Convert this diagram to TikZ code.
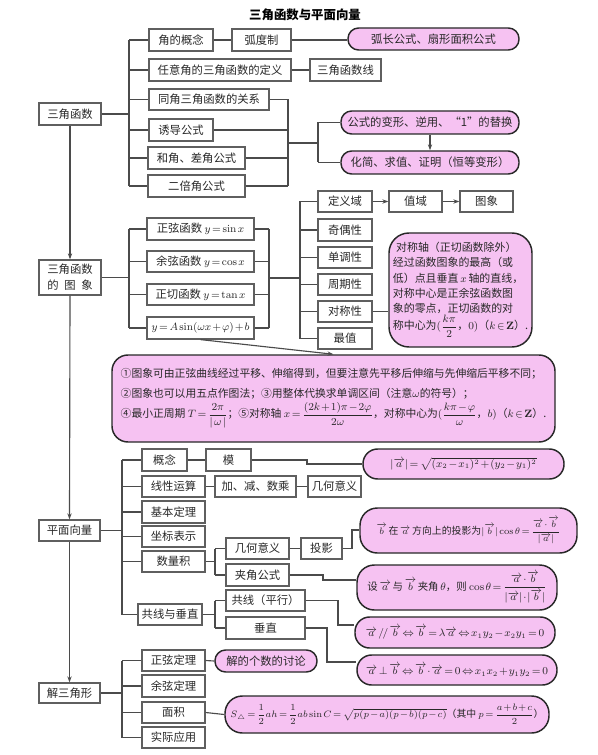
\documentclass[tikz,border=0pt]{standalone}
\usepackage{amsmath}
\usepackage[no-math]{fontspec}
\setmainfont{Noto Sans CJK SC}
\usetikzlibrary{arrows.meta}
\definecolor{pinkf}{RGB}{246,194,242}
\definecolor{pinkd}{RGB}{40,40,40}
\definecolor{boxd}{RGB}{95,95,95}
\definecolor{lined}{RGB}{75,75,75}
\definecolor{txt}{RGB}{40,40,40}
\newcommand\mybox[7][]{\node[#1, minimum width={(#5-#3)*0.75pt}, minimum height={(#6-#4)*0.75pt}] (#2) at ({(#3+#5)/2},{(#4+#6)/2}) {#7};}
\newcommand\va{\overrightarrow{a}}
\newcommand\vb{\overrightarrow{b}}
\thickmuskip=2.5mu plus 1mu
\medmuskip=1.5mu plus 1mu
\thinmuskip=2mu
\begin{document}
\begin{tikzpicture}[x=0.75pt,y=-0.75pt,
  plain/.style={draw=boxd, fill=white, line width=0.9pt, inner sep=0pt, font=\fontsize{8.5}{10}\selectfont, text=txt},
  pinkbox/.style={draw=pinkd, fill=pinkf, line width=1.1pt, rounded corners=7.5pt, inner sep=0pt, font=\fontsize{8.5}{10}\selectfont, text=txt},
  bigpink/.style={pinkbox, rounded corners=12pt},
  fml/.style={font=\fontsize{7.8}{9}\selectfont},
  fmls/.style={font=\fontsize{7.4}{9}\selectfont},
  link/.style={draw=lined, line width=0.85pt},
  arr/.style={link, -{Stealth[length=4.5pt,width=3.2pt]}}]
\useasboundingbox (0,0) rectangle (597,755);
\node[font=\fontsize{9.3}{11}\selectfont\bfseries] (title) at (305,15) {三角函数与平面向量};
% ---------- section 1
\mybox[plain]{sjhs}{39}{103}{101}{125}{三角函数}
\mybox[plain]{a1}{149}{29}{213}{51}{角的概念}
\mybox[plain]{a1b}{232}{29}{291}{51}{弧度制}
\mybox[pinkbox,rounded corners=8pt]{a1c}{348}{28}{519}{50}{弧长公式、扇形面积公式}
\mybox[plain]{a2}{149}{59}{291}{81}{任意角的三角函数的定义}
\mybox[plain]{a2b}{310}{59}{381}{81}{三角函数线}
\mybox[plain]{a3}{149}{89}{269}{110}{同角三角函数的关系}
\mybox[plain]{a4}{149}{119}{213}{141}{诱导公式}
\mybox[plain]{a5}{148}{147}{245}{169}{和角、差角公式}
\mybox[plain]{a6}{148}{175}{245}{197}{二倍角公式}
\mybox[pinkbox,rounded corners=8pt]{p1}{341}{111}{519}{134}{公式的变形、逆用、“1”的替换}
\mybox[pinkbox,rounded corners=8pt]{p2}{341}{151}{519}{174}{化简、求值、证明（恒等变形）}
\coordinate (B1) at (129,0);
\coordinate (B2) at (288,0);
\coordinate (B2m) at (288,143);
\coordinate (B3) at (318,143);
\draw[link] (sjhs.east) -- (sjhs.east -| B1);
\draw[link] (a1.west -| B1) -- (a6.west -| B1);
\foreach \n in {a1,a2,a3,a4,a5,a6} \draw[link] (\n.west -| B1) -- (\n.west);
\draw[link] (a1.east) -- (a1b.west);
\draw[link] (a1b.east) -- (a1b.east -| a1c.west);
\draw[link] (a2.east) -- (a2b.west);
\draw[link] (a3.east -| B2) -- (a6.east -| B2);
\foreach \n in {a3,a4,a5,a6} \draw[link] (\n.east) -- (\n.east -| B2);
\draw[link] (B2m) -- (B3);
\draw[link] (p1.west -| B3) -- (p2.west -| B3);
\draw[link] (p1.west -| B3) -- (p1.west);
\draw[link] (p2.west -| B3) -- (p2.west);
\draw[arr] (p1.south) -- (p2.north);
% ---------- section 2
\mybox[plain,align=center,font=\fontsize{8.5}{12}\selectfont]{tx}{39}{260}{101}{295}{三角函数\\的\hspace{0.5em}图\hspace{0.5em}象}
\mybox[plain]{g1}{147}{218}{254}{240}{正弦函数 $y=\sin x$}
\mybox[plain]{g2}{147}{251}{254}{272}{余弦函数 $y=\cos x$}
\mybox[plain]{g3}{147}{284}{254}{305}{正切函数 $y=\tan x$}
\mybox[plain]{g4}{147}{317}{254}{339}{$y=A\sin(\omega x+\varphi)+b$}
\mybox[plain]{h1}{318}{191}{372}{212}{定义域}
\mybox[plain]{h1b}{389}{191}{442}{212}{值域}
\mybox[plain]{h1c}{460}{191}{513}{212}{图象}
\mybox[plain]{h2}{318}{219}{372}{241}{奇偶性}
\mybox[plain]{h3}{318}{247}{372}{268}{单调性}
\mybox[plain]{h4}{318}{274}{372}{295}{周期性}
\mybox[plain]{h5}{318}{301}{372}{322}{对称性}
\mybox[plain]{h6}{318}{328}{372}{349}{最值}
\mybox[bigpink,rounded corners=15pt,align=left,font=\fontsize{8.2}{11.4}\selectfont]{q1}{389}{233}{532}{347}{\hspace{0.3em}对称轴（正切函数除外）\\经过函数图象的最高（或\\低）点且垂直\,$x$\,轴的直线，\\对称中心是正余弦函数图\\象的零点，正切函数的对\\称中心为$(\dfrac{k\pi}{2}$，$0)$（$k\in\mathbf{Z}$）.}
\mybox[bigpink,align=left,font=\fontsize{8.1}{15}\selectfont]{q2}{112}{355}{555}{442}{①图象可由正弦曲线经过平移、伸缩得到，但要注意先平移后伸缩与先伸缩后平移不同；\\②图象也可以用五点作图法；③用整体代换求单调区间（注意$\omega$的符号）；\\④最小正周期 $T=\dfrac{2\pi}{|\,\omega\,|}$；⑤对称轴 $x=\dfrac{(2k+1)\pi-2\varphi}{2\omega}$，对称中心为$(\dfrac{k\pi-\varphi}{\omega}$，$b)$（$k\in\mathbf{Z}$）.}
\coordinate (C1) at (129,0);
\coordinate (C2) at (269,0);
\coordinate (C2m) at (269,278);
\coordinate (C3m) at (300,278);
\coordinate (C3) at (300,0);
\draw[arr] (sjhs.south) -- (tx.north);
\draw[link] (tx.east) -- (tx.east -| C1);
\draw[link] (g1.west -| C1) -- (g4.west -| C1);
\draw[link] (g1.east -| C2) -- (g4.east -| C2);
\foreach \n in {g1,g2,g3,g4} {\draw[link] (\n.west -| C1) -- (\n.west); \draw[link] (\n.east) -- (\n.east -| C2);}
\draw[link] (C2m) -- (C3m);
\draw[link] (h1.west -| C3) -- (h6.west -| C3);
\foreach \n in {h1,h2,h3,h4,h5,h6} \draw[link] (\n.west -| C3) -- (\n.west);
\draw[arr] (h1.east) -- (h1b.west);
\draw[arr] (h1b.east) -- (h1c.west);
\draw[link] (h5.east) -- (h5.east -| q1.west);
\draw[arr] (g4.south) -- (q2.north);
% ---------- section 3
\mybox[plain]{pm}{39}{520}{100}{541}{平面向量}
\mybox[plain]{v1}{142}{449}{187}{471}{概念}
\mybox[plain]{v1b}{206}{449}{251}{471}{模}
\mybox[bigpink,fml,rounded corners=11pt]{v1c}{363}{449}{564}{479}{$|\va|=\sqrt{(x_2-x_1)^2+(y_2-y_1)^2}$}
\mybox[plain]{v2}{142}{476}{205}{497}{线性运算}
\mybox[plain]{v2b}{215}{476}{296}{497}{加、减、数乘}
\mybox[plain]{v2c}{308}{476}{361}{497}{几何意义}
\mybox[plain]{v3}{142}{501}{205}{523}{基本定理}
\mybox[plain]{v4}{142}{526}{205}{547}{坐标表示}
\mybox[plain]{v5}{142}{551}{205}{572}{数量积}
\mybox[plain]{v5a}{226}{538}{289}{559}{几何意义}
\mybox[plain]{v5b}{226}{564}{289}{586}{夹角公式}
\mybox[plain]{v5c}{301}{538}{342}{559}{投影}
\mybox[bigpink,fmls,rounded corners=13pt]{proj}{360}{508}{577}{553}{$\vb$\,在\,$\va$\,方向上的投影为$|\vb|\cos\theta=\dfrac{\va\cdot\vb}{|\va|}$}
\mybox[bigpink,fml,rounded corners=13pt]{ang}{357}{565}{557}{610}{设\,$\va$\,与\,$\vb$\,夹角\,$\theta$，则 $\cos\theta=\dfrac{\va\cdot\vb}{|\va|\cdot|\vb|}$}
\mybox[plain]{v6}{138}{604}{202}{625}{共线与垂直}
\mybox[plain]{v6a}{226}{590}{305}{611}{共线（平行）}
\mybox[plain]{v6b}{226}{617}{305}{639}{垂直}
\mybox[bigpink,fml,rounded corners=11pt]{par}{355}{617}{555}{648}{$\va\,/\!/\,\vb\Leftrightarrow\vb=\lambda\va\Leftrightarrow x_1y_2-x_2y_1=0$}
\mybox[bigpink,fml,rounded corners=11pt]{perp}{357}{655}{557}{685}{$\va\perp\vb\Leftrightarrow\vb\cdot\va=0\Leftrightarrow x_1x_2+y_1y_2=0$}
\coordinate (D1) at (122,0);
\coordinate (D2) at (215,0);
\coordinate (k0) at (307,464);
\coordinate (k1) at (323,580);
\coordinate (k2) at (352,530);
\coordinate (k3) at (338,625);
\coordinate (k4) at (327,662);
\draw[arr] (tx.south) -- (pm.north);
\draw[link] (pm.east) -- (pm.east -| D1);
\draw[link] (v1.west -| D1) -- (v6.west -| D1);
\foreach \n in {v1,v2,v3,v4,v5,v6} \draw[link] (\n.west -| D1) -- (\n.west);
\draw[link] (v1.east) -- (v1b.west);
\draw[link] (v1b.east) -| (k0) -- (k0 -| v1c.west);
\draw[link] (v2.east) -- (v2b.west);
\draw[link] (v2b.east) -- (v2c.west);
\draw[link] (v5.east) -- (v5.east -| D2);
\draw[link] (v5a.west -| D2) -- (v5b.west -| D2);
\draw[link] (v5a.west -| D2) -- (v5a.west);
\draw[link] (v5b.west -| D2) -- (v5b.west);
\draw[link] (v5a.east) -- (v5c.west);
\draw[link] (v5c.east) -| (k2) -- (k2 -| proj.west);
\draw[link] (v5b.east) -| (k1) -- (k1 -| ang.west);
\draw[link] (v6.east) -- (v6.east -| D2);
\draw[link] (v6a.west -| D2) -- (v6b.west -| D2);
\draw[link] (v6a.west -| D2) -- (v6a.west);
\draw[link] (v6b.west -| D2) -- (v6b.west);
\draw[link] (v6a.east) -| (k3) -- (k3 -| par.west);
\draw[link] (v6b.east) -| (k4) -- (k4 -| perp.west);
% ---------- section 4
\mybox[plain]{jsj}{39}{683}{100}{703}{解三角形}
\mybox[plain]{t1}{142}{650}{205}{671}{正弦定理}
\mybox[plain]{t2}{142}{675}{205}{697}{余弦定理}
\mybox[plain]{t3}{142}{702}{205}{723}{面积}
\mybox[plain]{t4}{142}{727}{205}{748}{实际应用}
\mybox[pinkbox,rounded corners=8pt]{t1b}{215}{650}{317}{672}{解的个数的讨论}
\mybox[bigpink,fmls,rounded corners=13pt]{t3b}{225}{696}{549}{733}{$S_{\triangle}=\dfrac12ah=\dfrac12ab\sin C=\sqrt{p(p-a)(p-b)(p-c)}$（其中 $p=\dfrac{a+b+c}{2}$）}
\coordinate (E1) at (122,0);
\draw[arr] (pm.south) -- (jsj.north);
\draw[link] (jsj.east) -- (jsj.east -| E1);
\draw[link] (t1.west -| E1) -- (t4.west -| E1);
\foreach \n in {t1,t2,t3,t4} \draw[link] (\n.west -| E1) -- (\n.west);
\draw[link] (t1.east) -- (t1b.west);
\draw[link] (t3.east) -- (t3b.west);
\end{tikzpicture}
\end{document}
